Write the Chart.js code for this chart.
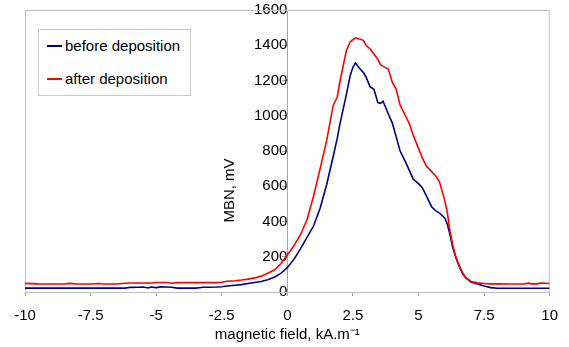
<!DOCTYPE html>
<html>
<head>
<meta charset="utf-8">
<script src="https://cdn.jsdelivr.net/npm/chart.js@4/dist/chart.umd.min.js"></script>
<style>
  body { margin: 0; background: #fff; }
  #wrap { position: relative; width: 569px; height: 347px; }
  .legend {
    position: absolute; left: 38px; top: 29px; width: 151px; height: 65px;
    border: 1px solid #c8c8c8; background: #fff;
    font: 15px Arial, "Liberation Sans", sans-serif; color: #000;
  }
  .legend div { position: absolute; left: 8px; white-space: nowrap; }
  .legend span { display: inline-block; width: 15px; height: 2px; vertical-align: middle; margin-right: 3px; position: relative; top: -1px; }
</style>
</head>
<body>
<div id="wrap">
  <canvas id="mbnChart"></canvas>
  <div class="legend">
    <div style="top:7px"><span style="background:#000080"></span>before deposition</div>
    <div style="top:40px"><span style="background:#ff0000"></span>after deposition</div>
  </div>
</div>
<script>
// magnetic field, kA/m
const field = [-10, -9.5, -9, -8.5, -8.3, -8, -7.5, -7.2, -7, -6.5, -6.2, -6, -5.7, -5.5, -5.3, -5.2, -5, -4.8, -4.6, -4.4,
  -4.2, -4, -3.5, -3.2, -3, -2.7, -2.5, -2.3, -2, -1.75, -1.5, -1.25, -1, -0.75, -0.5, -0.25, 0, 0.25, 0.5, 0.75,
  1, 1.25, 1.5, 1.75, 1.9, 2, 2.25, 2.4, 2.5, 2.6, 2.75, 2.9, 3, 3.15, 3.3, 3.45, 3.55, 3.65, 3.85, 4,
  4.15, 4.3, 4.5, 4.65, 4.8, 5, 5.15, 5.3, 5.5, 5.65, 5.8, 6, 6.1, 6.2, 6.3, 6.4, 6.5, 6.6, 6.7, 6.8,
  7, 7.25, 7.5, 7.75, 8, 8.5, 9, 9.2, 9.3, 9.5, 9.7, 9.8, 10];

// MBN, mV
const beforeDeposition = [22, 22, 22, 22, 22, 22, 22, 22, 22, 22, 22, 26, 27, 28, 23, 28, 25, 29, 28, 27,
  22, 22, 22, 27, 27, 28, 30, 34, 38, 42, 48, 54, 60, 70, 84, 106, 138, 185, 245, 310,
  375, 475, 610, 770, 870, 950, 1120, 1230, 1275, 1300, 1270, 1245, 1220, 1165, 1150, 1075, 1070, 1082, 1010, 960,
  880, 800, 740, 690, 640, 615, 590, 545, 484, 462, 448, 420, 385, 325, 255, 205, 165, 130, 100, 80,
  57, 46, 34, 25, 21, 21, 21, 21, 21, 21, 21, 21, 21];

const afterDeposition = [49, 46, 45, 45, 49, 45, 45, 48, 45, 45, 50, 51, 51, 51, 51, 51, 54, 54, 54, 50,
  53, 53, 53, 53, 53, 53, 55, 61, 64, 68, 73, 80, 90, 106, 125, 160, 210, 262, 325, 410,
  545, 700, 860, 1060, 1105, 1190, 1370, 1420, 1432, 1442, 1435, 1428, 1400, 1380, 1350, 1320, 1290, 1280, 1265, 1190,
  1150, 1060, 1000, 955, 890, 815, 760, 715, 683, 660, 625, 520, 450, 345, 270, 212, 170, 135, 104, 82,
  60, 52, 48, 46, 46, 45, 45, 50, 46, 46, 51, 50, 48];

const fontFamily = 'Arial, "Liberation Sans", sans-serif';
const axisGray = "#a6a6a6";

function toPoints(ys) {
  return field.map((x, i) => ({ x: x, y: ys[i] }));
}

// frame round the plot area and the y title
const framePlugin = {
  id: "frame",
  beforeDatasetsDraw(chart) {
    const { ctx, chartArea } = chart;
    ctx.save();
    ctx.strokeStyle = "#c0c0c0";
    ctx.lineWidth = 1;
    ctx.strokeRect(chartArea.left + 0.5, chartArea.top + 0.5, chartArea.width - 1, chartArea.height);
    ctx.restore();
  },
  afterDraw(chart) {
    const { ctx, chartArea, scales } = chart;
    const x0 = scales.x.getPixelForValue(0);
    ctx.save();
    ctx.translate(x0 - 57, chartArea.top + chartArea.height * 0.64);
    ctx.rotate(-Math.PI / 2);
    ctx.font = "15px " + fontFamily;
    ctx.fillStyle = "#000";
    ctx.textAlign = "center";
    ctx.textBaseline = "middle";
    ctx.fillText("MBN, mV", 0, 0);
    ctx.restore();
  }
};

const ctx = document.getElementById("mbnChart").getContext("2d");
const mbnChart = new Chart(ctx, {
  type: "line",
  data: {
    datasets: [
      {
        label: "before deposition",
        data: toPoints(beforeDeposition),
        borderColor: "#000080",
        borderWidth: 1.6,
        pointRadius: 0,
        tension: 0,
        order: 1
      },
      {
        label: "after deposition",
        data: toPoints(afterDeposition),
        borderColor: "#ff0000",
        borderWidth: 1.6,
        pointRadius: 0,
        tension: 0,
        order: 0
      }
    ]
  },
  options: {
    responsive: true,
    maintainAspectRatio: false,
    animation: false,
    layout: { padding: { left: 25, right: 19, top: 10, bottom: 0 } },
    plugins: { legend: { display: false }, tooltip: { enabled: false } },
    scales: {
      x: {
        type: "linear",
        min: -10,
        max: 10,
        ticks: { stepSize: 2.5, color: "#000", font: { family: fontFamily, size: 15 }, padding: 11, maxRotation: 0 },
        grid: { drawOnChartArea: false, tickLength: 4, color: axisGray },
        border: { color: axisGray },
        title: {
          display: true,
          text: "magnetic field, kA.m⁻¹",
          color: "#000",
          font: { family: fontFamily, size: 15, lineHeight: 1 },
          padding: { top: -9, bottom: 5 }
        }
      },
      y: {
        position: { x: 0 },
        min: 0,
        max: 1600,
        ticks: {
          stepSize: 200,
          color: "#000",
          font: { family: fontFamily, size: 15 },
          padding: 10,
          callback: (value) => String(value)
        },
        grid: { drawOnChartArea: false, tickLength: 5, color: axisGray },
        border: { color: axisGray },
        // the "1600" label may sit on the top frame line
        afterFit: (scale) => {
          scale.paddingTop = 8;
          scale.paddingBottom = 8;
        }
      }
    }
  },
  plugins: [framePlugin]
});
</script>
</body>
</html>
